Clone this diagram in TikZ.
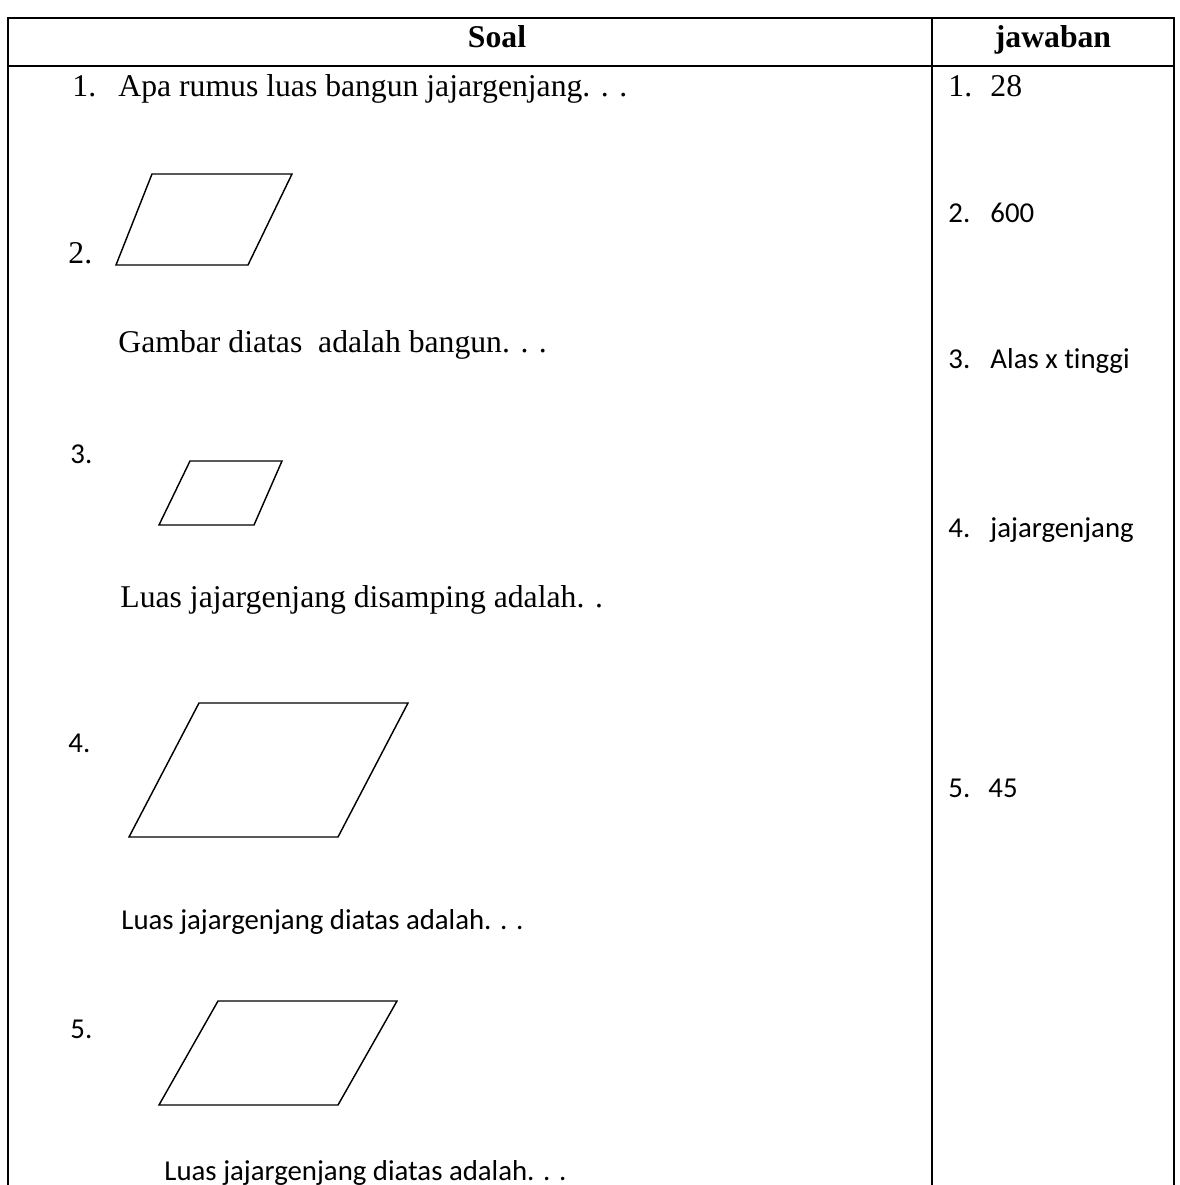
\documentclass[tikz,border=0pt]{standalone}
\usepackage{fontspec}
\setmainfont{Liberation Serif}
\newfontfamily\calib[Ligatures=NoCommon]{Carlito}
\begin{document}
\begin{tikzpicture}[x=0.41667pt,y=-0.41667pt,
  tm/.style={font=\fontsize{13.2pt}{15pt}\selectfont, inner sep=0pt, anchor=base west},
  tmb/.style={font=\fontsize{13.2pt}{15pt}\selectfont\bfseries, inner sep=0pt, anchor=base},
  cb/.style={font=\calib\fontsize{12pt}{14pt}\selectfont, inner sep=0pt, anchor=base west},
  grid/.style={line width=0.85pt},
  para/.style={line width=0.6pt, line join=miter}]
\useasboundingbox (0,0) rectangle (1179,1185);
% table lines
\coordinate (tl) at (8,18); \coordinate (tr) at (1174,18);
\coordinate (hl) at (8,66); \coordinate (hr) at (1174,66);
\coordinate (bl) at (8,1186); \coordinate (br) at (1174,1186);
\coordinate (dt) at (932,18); \coordinate (db) at (932,1186);
\draw[grid] (bl) -- (tl) -- (tr) -- (br);
\draw[grid] (hl) -- (hr);
\draw[grid] (dt) -- (db);
% header
\node[tmb] (hsoal) at (497,48) {Soal};
\node[tmb] (hjaw) at (1053,48) {jawaban};
% question 1
\node[tm] (n1) at (72,97) {1.};
\node[tm] (q1) at (118,97) {Apa rumus luas bangun jajargenjang. . .};
% question 2
\node[tm] (n2) at (68,263) {2.};
\draw[para] (152,174) -- (292,174) -- (248,265) -- (116,265) -- cycle;
\node[tm] (q2) at (118,352) {Gambar diatas\ \ adalah bangun. . .};
% question 3
\node[cb] (n3) at (70,463) {3.};
\draw[para] (190,461) -- (282,461) -- (254,525) -- (159,525) -- cycle;
\node[tm] (q3) at (120,607) {Luas jajargenjang disamping adalah. .};
% question 4
\node[cb] (n4) at (68,752) {4.};
\draw[para] (199,703) -- (408,703) -- (338,837) -- (129,837) -- cycle;
\node[cb] (q4) at (121,929) {Luas jajargenjang diatas adalah. . .};
% question 5
\node[cb] (n5) at (70,1038) {5.};
\draw[para] (218,1001) -- (397,1001) -- (338,1105) -- (159,1105) -- cycle;
\node[cb] (q5) at (164,1180) {Luas jajargenjang diatas adalah. . .};
% answers
\node[tm] (a1n) at (948,97) {1.};
\node[tm] (a1) at (990,97) {28};
\node[cb] (a2n) at (948,222) {2.};
\node[cb] (a2) at (990,222) {600};
\node[cb] (a3n) at (948,368) {3.};
\node[cb] (a3) at (990,368) {Alas x tinggi};
\node[cb] (a4n) at (948,537) {4.};
\node[cb] (a4) at (990,537) {jajargenjang};
\node[cb] (a5n) at (948,797) {5.};
\node[cb] (a5) at (988,797) {45};
\end{tikzpicture}
\end{document}
